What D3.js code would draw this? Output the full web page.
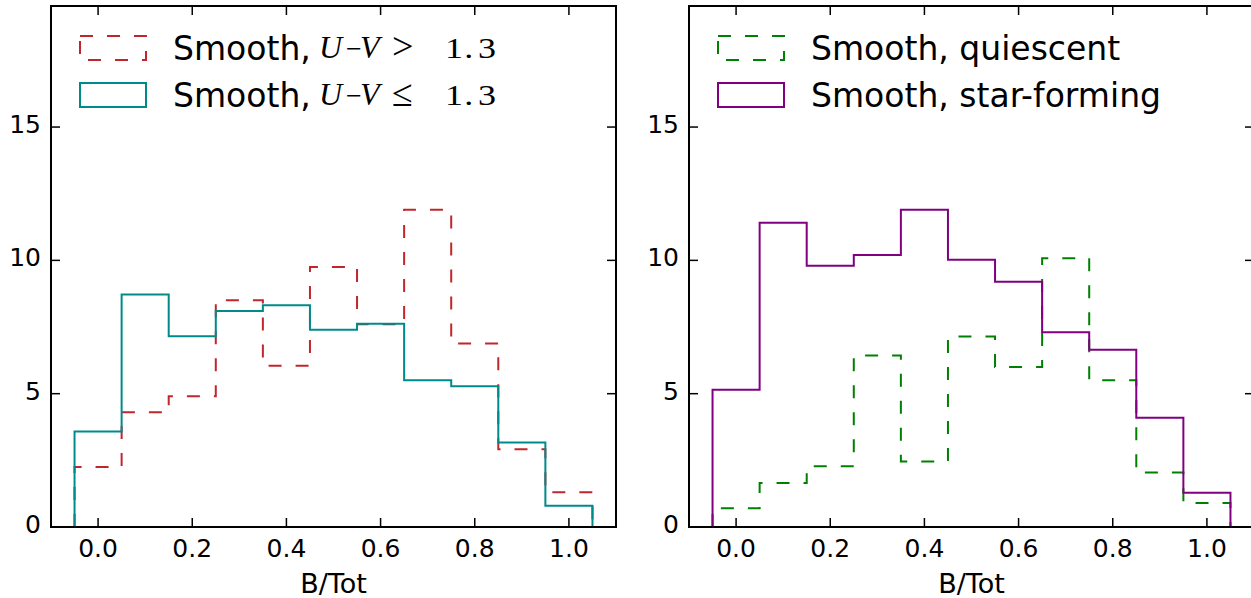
<!DOCTYPE html>
<html><head><meta charset="utf-8">
<script src="https://cdn.jsdelivr.net/npm/d3@7"></script>
<style>body{margin:0;background:#fff;} svg{display:block;}</style>
</head><body>
<svg id="c" width="1251" height="598"></svg>
<script>
const binEdges = [-0.05,0.05,0.15,0.25,0.35,0.45,0.55,0.65,0.75,0.85,0.95,1.05];
const redVals    = [2.25,4.3,4.9,8.5,6.05,9.75,7.6,11.9,6.88,2.92,1.3];
const tealVals   = [3.58,8.72,7.15,8.1,8.32,7.4,7.62,5.5,5.28,3.17,0.8];
const greenVals  = [0.7,1.65,2.28,6.43,2.46,7.14,6.0,10.08,5.5,2.04,0.9];
const purpleVals = [5.15,11.41,9.8,10.2,11.9,10.02,9.2,7.3,6.65,4.1,1.28];
const xTicks = [0.0,0.2,0.4,0.6,0.8,1.0];
const yTicks = [0,5,10,15];
const xLabel = "B/Tot";
const panels = [
  {x0:51, x1:616, series:[
    {vals:redVals, color:"#c0272d", dashed:true, label:"Smooth,", rel:">", num:["1",".","3"]},
    {vals:tealVals, color:"#008b8b", dashed:false, label:"Smooth,", rel:"≤", num:["1",".","3"]}]},
  {x0:689, x1:1254, series:[
    {vals:greenVals, color:"#008000", dashed:true, label:"Smooth, quiescent"},
    {vals:purpleVals, color:"#800080", dashed:false, label:"Smooth, star-forming"}]}
];
const svg = d3.select("#c");
const yTop = 6, yBot = 527;
const y = d3.scaleLinear().domain([0,19.54]).range([yBot,yTop]);
const dash = "13,14";
panels.forEach((p,pi)=>{
  const x = d3.scaleLinear().domain([-0.1,1.1]).range([p.x0,p.x1]);
  const g = svg.append("g");
  const clipId = "clip"+pi;
  svg.append("clipPath").attr("id",clipId).append("rect")
    .attr("x",p.x0).attr("y",yTop).attr("width",p.x1-p.x0).attr("height",yBot-yTop);
  const line = d3.line().x(d=>x(d[0])).y(d=>y(d[1]));
  p.series.forEach(s=>{
    const pts = [[binEdges[0],0]];
    s.vals.forEach((v,i)=>{pts.push([binEdges[i],v]);pts.push([binEdges[i+1],v]);});
    pts.push([binEdges[binEdges.length-1],0]);
    g.append("path").attr("d",line(pts)).attr("fill","none")
      .attr("stroke",s.color).attr("stroke-width",2)
      .attr("stroke-dasharray",s.dashed?dash:null)
      .attr("clip-path",`url(#${clipId})`);
  });
  // ticks
  const tk = 9;
  xTicks.forEach(t=>{
    g.append("line").attr("x1",x(t)).attr("x2",x(t)).attr("y1",yBot).attr("y2",yBot-tk).attr("stroke","#000").attr("stroke-width",1.5);
    g.append("line").attr("x1",x(t)).attr("x2",x(t)).attr("y1",yTop).attr("y2",yTop+tk).attr("stroke","#000").attr("stroke-width",1.5);
    g.append("text").attr("x",x(t)).attr("y",557).attr("text-anchor","middle")
      .attr("font-family","DejaVu Sans").attr("font-size",25).text(d3.format(".1f")(t));
  });
  yTicks.forEach(t=>{
    g.append("line").attr("x1",p.x0).attr("x2",p.x0+tk).attr("y1",y(t)).attr("y2",y(t)).attr("stroke","#000").attr("stroke-width",1.5);
    g.append("line").attr("x1",p.x1).attr("x2",p.x1-tk).attr("y1",y(t)).attr("y2",y(t)).attr("stroke","#000").attr("stroke-width",1.5);
    g.append("text").attr("x",p.x0-10).attr("y",y(t)+6).attr("text-anchor","end")
      .attr("font-family","DejaVu Sans").attr("font-size",25).text(t);
  });
  g.append("rect").attr("x",p.x0).attr("y",yTop).attr("width",p.x1-p.x0).attr("height",yBot-yTop)
    .attr("fill","none").attr("stroke","#000").attr("stroke-width",2);
  g.append("text").attr("x",(p.x0+p.x1)/2).attr("y",593).attr("text-anchor","middle")
    .attr("font-family","DejaVu Sans").attr("font-size",27).text(xLabel);
  // legend
  p.series.forEach((s,i)=>{
    const by = 60 + i*47;
    const tx = p.x0+122;
    g.append("rect").attr("x",p.x0+29).attr("y",by-24).attr("width",66).attr("height",24)
      .attr("fill","none").attr("stroke",s.color).attr("stroke-width",2)
      .attr("stroke-dasharray",s.dashed?"13,14":null);
    g.append("text").attr("x",tx).attr("y",by)
      .attr("font-family","DejaVu Sans").attr("font-size",33).text(s.label);
    if(s.rel){
      const m = g.append("text").attr("y",by-2).attr("font-family","Liberation Serif").attr("font-size",32);
      m.append("tspan").attr("x",tx+146).attr("font-style","italic").text("U");
      m.append("tspan").attr("x",tx+173).attr("font-size",28).text("−");
      m.append("tspan").attr("x",tx+187).attr("font-style","italic").text("V");
      m.append("tspan").attr("x",tx+219).attr("font-size",38).attr("dy",1).text(s.rel);
      const n = g.append("text").attr("transform",`translate(${tx+272},${by-2}) scale(1.2,1)`)
        .attr("font-family","Liberation Serif").attr("font-size",30);
      n.append("tspan").text(s.num[0]);
      n.append("tspan").attr("dx",1).text(s.num[1]);
      n.append("tspan").attr("dx",4).text(s.num[2]);
    }
  });
});
</script>
</body></html>
